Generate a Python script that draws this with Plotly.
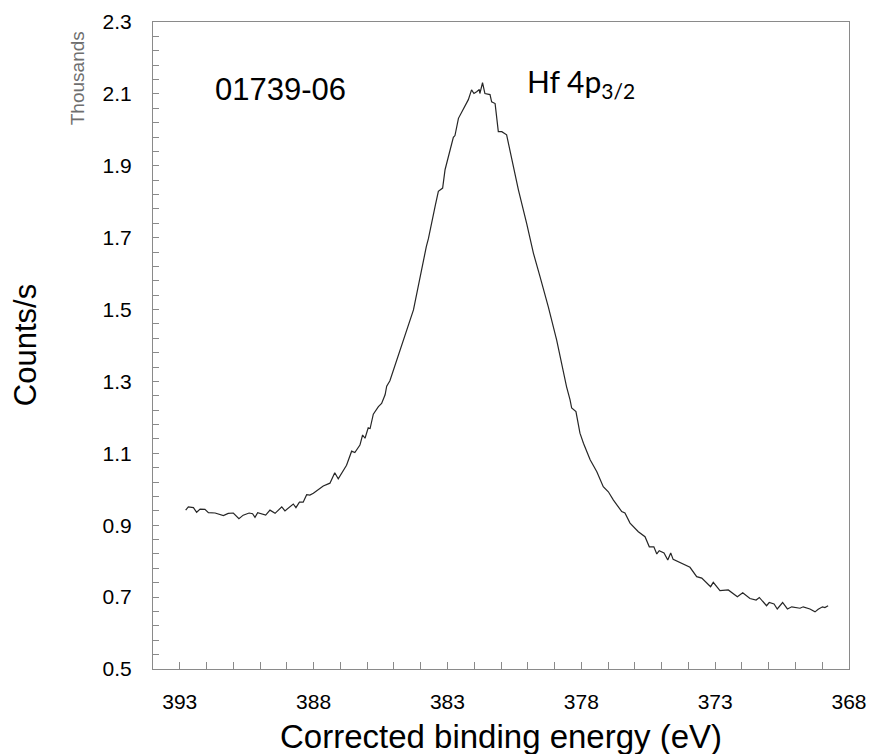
import plotly.graph_objects as go

# Binding energy (eV) and counts/s (thousands)
energy = [
    392.78, 392.68, 392.49, 392.37, 392.24, 392.06, 391.93, 391.68, 391.37, 391.19,
    391.00, 390.79, 390.63, 390.41, 390.28, 390.19, 390.09, 389.79, 389.63, 389.44,
    389.19, 389.07, 388.76, 388.66, 388.53, 388.39, 388.26, 388.14, 388.01, 387.64,
    387.39, 387.21, 387.08, 386.77, 386.58, 386.46, 386.27, 386.17, 386.08, 385.96,
    385.89, 385.77, 385.58, 385.46, 385.33, 385.27, 385.15, 384.77, 384.27, 383.79,
    383.71, 383.46, 383.34, 383.18, 383.09, 382.78, 382.72, 382.59, 382.41, 382.22,
    382.10, 382.01, 381.91, 381.81, 381.79, 381.69, 381.60, 381.41, 381.35, 381.22,
    381.10, 380.97, 380.79, 380.54, 380.35, 380.04, 379.79, 379.54, 379.23, 378.92,
    378.67, 378.55, 378.42, 378.36, 378.20, 378.05, 377.92, 377.67, 377.42, 377.18,
    376.99, 376.80, 376.49, 376.37, 376.18, 375.87, 375.62, 375.46, 375.29, 375.18,
    375.09, 374.91, 374.77, 374.66, 374.57, 374.31, 373.94, 373.69, 373.50, 373.17,
    373.07, 372.82, 372.51, 372.17, 371.97, 371.70, 371.47, 371.35, 371.08, 370.98,
    370.80, 370.68, 370.48, 370.30, 370.14, 369.83, 369.71, 369.46, 369.27, 369.15,
    368.99, 368.90, 368.78,
]
counts = [
    0.942, 0.951, 0.949, 0.936, 0.945, 0.944, 0.935, 0.934, 0.927, 0.933,
    0.934, 0.918, 0.928, 0.934, 0.932, 0.922, 0.935, 0.928, 0.942, 0.933,
    0.951, 0.940, 0.959, 0.949, 0.964, 0.964, 0.985, 0.984, 0.989, 1.009,
    1.017, 1.046, 1.029, 1.067, 1.106, 1.102, 1.123, 1.151, 1.142, 1.171,
    1.169, 1.209, 1.230, 1.239, 1.263, 1.287, 1.302, 1.388, 1.499, 1.675,
    1.698, 1.788, 1.829, 1.838, 1.889, 1.979, 1.984, 2.032, 2.056, 2.084,
    2.111, 2.101, 2.106, 2.112, 2.101, 2.131, 2.101, 2.098, 2.078, 2.073,
    1.995, 1.995, 1.986, 1.898, 1.833, 1.739, 1.657, 1.591, 1.507, 1.415,
    1.323, 1.285, 1.249, 1.226, 1.216, 1.156, 1.128, 1.082, 1.049, 1.007,
    0.993, 0.970, 0.938, 0.934, 0.906, 0.882, 0.868, 0.840, 0.840, 0.820,
    0.829, 0.823, 0.803, 0.823, 0.805, 0.796, 0.783, 0.757, 0.753, 0.729,
    0.741, 0.718, 0.720, 0.701, 0.712, 0.696, 0.692, 0.699, 0.676, 0.685,
    0.681, 0.667, 0.685, 0.667, 0.673, 0.669, 0.673, 0.667, 0.659, 0.666,
    0.673, 0.671, 0.676,
]

x_ticks = [393, 388, 383, 378, 373, 368]
y_ticks = [0.5, 0.7, 0.9, 1.1, 1.3, 1.5, 1.7, 1.9, 2.1, 2.3]

AX = "#8a8a8a"
FONT = "Liberation Sans, Arial, sans-serif"

fig = go.Figure()
fig.add_trace(go.Scatter(x=energy, y=counts, mode="lines",
                         line=dict(color="#262626", width=1.2),
                         hoverinfo="skip", showlegend=False))

fig.update_layout(
    width=870, height=754,
    margin=dict(l=153, r=21, t=22, b=85, autoexpand=False),
    paper_bgcolor="white", plot_bgcolor="white",
    font=dict(family=FONT, color="black"),
    showlegend=False,
)
fig.update_xaxes(
    range=[394, 368], tickvals=x_ticks, ticktext=[str(v) for v in x_ticks],
    ticks="inside", ticklen=7, tickcolor=AX, tickwidth=1,
    minor=dict(dtick=1, tick0=368, ticks="inside", ticklen=7, tickcolor=AX),
    showline=True, linecolor=AX, linewidth=1, mirror=True,
    showgrid=False, zeroline=False, automargin=False,
    tickfont=dict(size=21, family=FONT, color="black"),
    ticklabelstandoff=14,
)
fig.update_yaxes(
    range=[0.5, 2.3], tickvals=y_ticks, ticktext=[f"{v:.1f}" for v in y_ticks],
    ticks="inside", ticklen=6, tickcolor=AX, tickwidth=1,
    minor=dict(dtick=0.04, tick0=0.5, ticks="inside", ticklen=6, tickcolor=AX),
    showline=True, linecolor=AX, linewidth=1, mirror=True,
    showgrid=False, zeroline=False, automargin=False,
    tickfont=dict(size=21, family=FONT, color="black"),
    ticklabelstandoff=16,
)

annotations = [
    dict(text="Corrected binding energy (eV)", x=0.5, y=-0.105, xref="paper", yref="paper",
         xanchor="center", yanchor="middle", showarrow=False,
         font=dict(size=33, family=FONT, color="black")),
    dict(text="Counts/s", x=-0.183, y=0.5, xref="paper", yref="paper", textangle=-90,
         xanchor="center", yanchor="middle", showarrow=False,
         font=dict(size=31, family=FONT, color="black")),
    dict(text="Thousands", x=-0.1089, y=0.9134, xref="paper", yref="paper", textangle=-90,
         xanchor="center", yanchor="middle", showarrow=False,
         font=dict(size=19, family=FONT, color="#6e6e6e")),
    dict(text="01739-06", x=0.0858, y=0.895, xref="paper", yref="paper",
         xanchor="left", yanchor="middle", showarrow=False,
         font=dict(size=31, family=FONT, color="black")),
    dict(text="Hf 4p<sub>3/2</sub>", x=0.534, y=0.905, xref="paper", yref="paper",
         xanchor="left", yanchor="middle", showarrow=False,
         font=dict(size=30, family="Lato, Carlito, sans-serif", color="black")),
]
fig.update_layout(annotations=annotations)

fig.write_html("out.html")
